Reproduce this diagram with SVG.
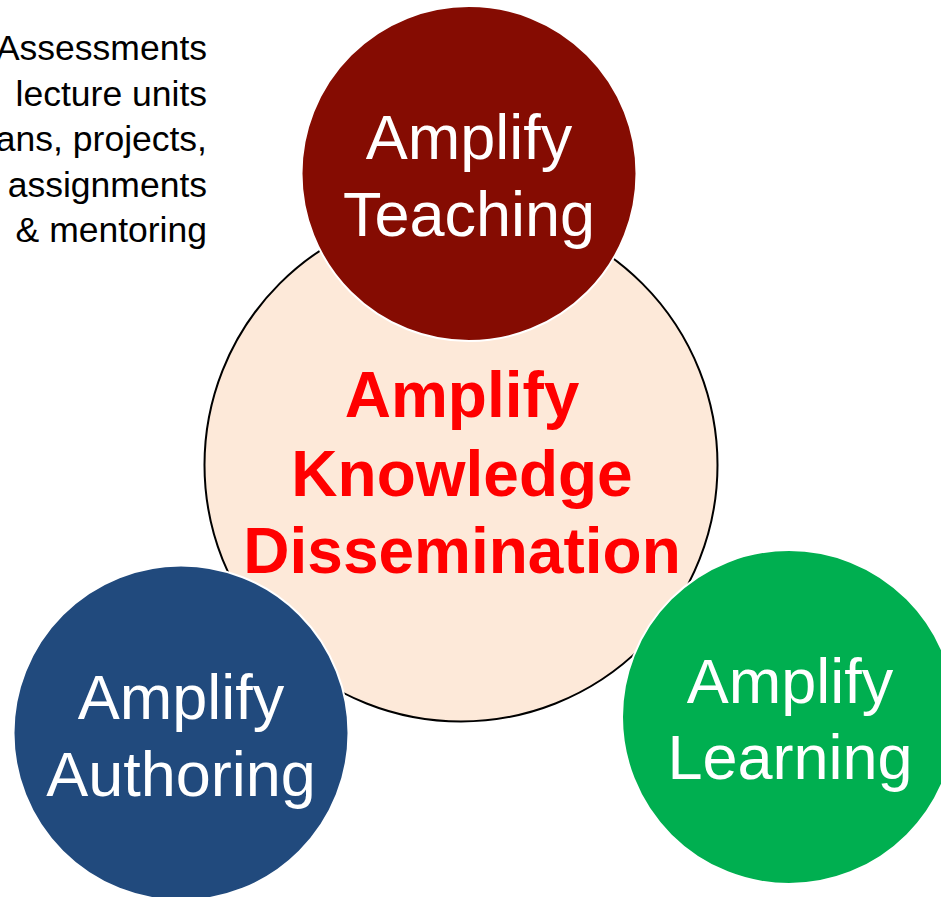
<svg xmlns="http://www.w3.org/2000/svg" width="941" height="897" viewBox="0 0 941 897">
<style>
.note{font-family:"Liberation Sans",Arial,sans-serif;font-size:35.5px;fill:#000;text-anchor:end}
.lbl{font-family:"Liberation Sans",Arial,sans-serif;font-size:63px;fill:#fff;text-anchor:middle}
.core{font-family:"Liberation Sans",Arial,sans-serif;font-size:64px;font-weight:bold;fill:#ff0000;text-anchor:middle}
.sat{stroke:#fff;stroke-width:2}
</style>
<rect width="941" height="897" fill="#fff"/>
<g id="notes">
<text class="note" x="207" y="60">Assessments</text>
<text class="note" x="207" y="105.5">lecture units</text>
<text class="note" x="207" y="151">ans, projects,</text>
<text class="note" x="207" y="196.5">assignments</text>
<text class="note" x="207" y="242">&amp; mentoring</text>
</g>
<g id="connectors"></g>
<g id="knowledge">
<circle cx="461" cy="465" r="256.5" fill="#FDE9D9" stroke="#000" stroke-width="2"/>
<text class="core" x="462" y="417">Amplify</text>
<text class="core" x="462" y="496">Knowledge</text>
<text class="core" x="462" y="573">Dissemination</text>
</g>
<g id="teaching">
<circle class="sat" cx="469" cy="173.5" r="167.5" fill="#850C02"/>
<text class="lbl" x="469" y="159">Amplify</text>
<text class="lbl" x="469" y="236">Teaching</text>
</g>
<g id="authoring">
<circle class="sat" cx="181" cy="733" r="167.5" fill="#214A7D"/>
<text class="lbl" x="181" y="719">Amplify</text>
<text class="lbl" x="181" y="796">Authoring</text>
</g>
<g id="learning">
<circle class="sat" cx="789" cy="717" r="167" fill="#00AF50"/>
<text class="lbl" x="790" y="703">Amplify</text>
<text class="lbl" x="790" y="779">Learning</text>
</g>
</svg>
